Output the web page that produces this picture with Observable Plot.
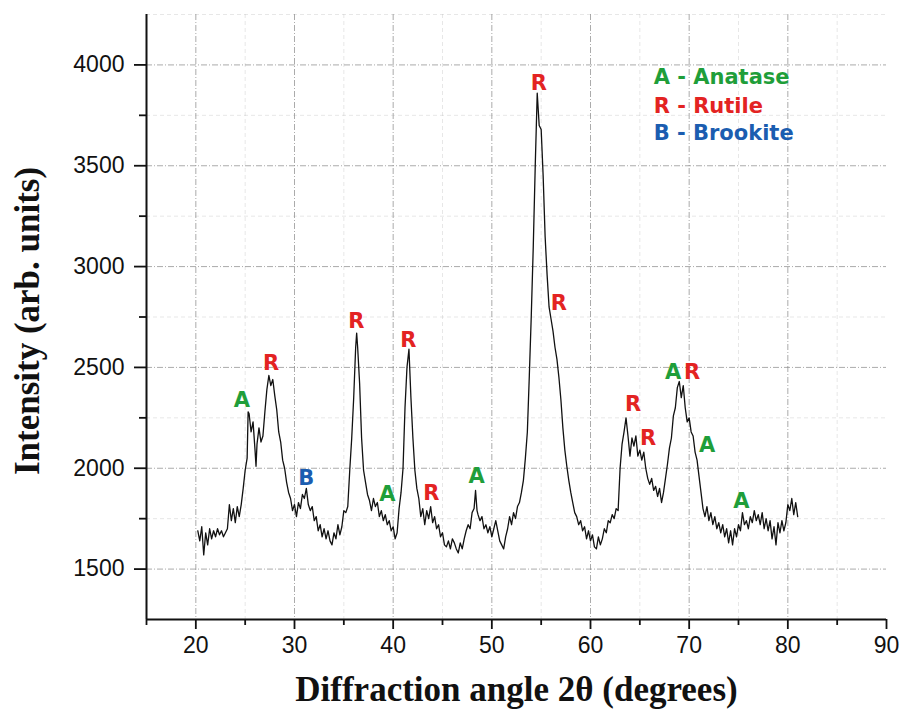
<!DOCTYPE html>
<html>
<head>
<meta charset="utf-8">
<script src="https://cdn.jsdelivr.net/npm/d3@7"></script>
<script src="https://cdn.jsdelivr.net/npm/@observablehq/plot@0.6"></script>
<style>
  html, body { margin: 0; padding: 0; background: #fff; }
  #chart { width: 906px; height: 725px; }
</style>
</head>
<body>
<div id="chart"></div>
<script>
// Diffraction angle (degrees)
const angle = [
  20.2,20.4,20.6,20.8,21.0,21.2,21.4,21.6,21.8,22.0,22.2,22.4,22.6,22.8,23.0,23.2,23.4,23.6,23.8,24.0,
  24.2,24.4,24.6,24.8,25.0,25.2,25.3,25.4,25.6,25.8,26.0,26.1,26.2,26.4,26.6,26.8,27.0,27.2,27.4,27.6,
  27.8,28.0,28.2,28.4,28.6,28.8,29.0,29.2,29.4,29.6,29.8,30.0,30.2,30.4,30.6,30.8,31.0,31.2,31.4,31.6,
  31.8,32.0,32.2,32.4,32.6,32.8,33.0,33.2,33.4,33.6,33.8,34.0,34.2,34.4,34.6,34.8,35.0,35.2,35.4,35.6,
  35.8,36.0,36.2,36.3,36.4,36.6,36.8,37.0,37.2,37.4,37.6,37.8,38.0,38.2,38.4,38.6,38.8,39.0,39.2,39.4,
  39.6,39.8,40.0,40.2,40.4,40.6,40.8,41.0,41.2,41.4,41.6,41.8,42.0,42.2,42.4,42.6,42.8,43.0,43.2,43.4,
  43.6,43.8,44.0,44.2,44.4,44.6,44.8,45.0,45.2,45.4,45.6,45.8,46.0,46.2,46.4,46.6,46.8,47.0,47.2,47.4,
  47.6,47.8,48.0,48.2,48.35,48.5,48.6,48.8,49.0,49.2,49.4,49.6,49.8,50.0,50.2,50.4,50.6,50.8,51.0,51.2,
  51.4,51.6,51.8,52.0,52.2,52.4,52.6,52.8,53.0,53.2,53.4,53.6,53.8,54.0,54.2,54.4,54.6,54.8,55.0,55.2,
  55.4,55.6,55.8,56.0,56.2,56.4,56.6,56.8,57.0,57.2,57.4,57.6,57.8,58.0,58.2,58.4,58.6,58.8,59.0,59.2,
  59.4,59.6,59.8,60.0,60.2,60.4,60.6,60.8,61.0,61.2,61.4,61.6,61.8,62.0,62.2,62.4,62.6,62.8,63.0,63.2,
  63.4,63.6,63.8,64.0,64.2,64.4,64.6,64.8,65.0,65.2,65.4,65.6,65.8,66.0,66.2,66.4,66.6,66.8,67.0,67.2,
  67.4,67.6,67.8,68.0,68.2,68.4,68.6,68.8,69.0,69.2,69.4,69.6,69.8,70.0,70.2,70.4,70.6,70.8,71.0,71.2,
  71.4,71.6,71.8,72.0,72.2,72.4,72.6,72.8,73.0,73.2,73.4,73.6,73.8,74.0,74.2,74.4,74.6,74.8,75.0,75.2,
  75.4,75.6,75.8,76.0,76.2,76.4,76.6,76.8,77.0,77.2,77.4,77.6,77.8,78.0,78.2,78.4,78.6,78.8,79.0,79.2,
  79.4,79.6,79.8,80.0,80.2,80.4,80.6,80.8,81.0
];
// Intensity (arb. units)
const intensity = [
  1690,1640,1710,1570,1680,1620,1700,1650,1690,1660,1700,1670,1690,1660,1680,1700,1820,1740,1800,1730,
  1810,1760,1820,1900,1990,2050,2280,2270,2180,2230,2090,2010,2120,2200,2130,2160,2280,2390,2460,2410,
  2440,2360,2290,2180,2130,2040,2000,1930,1880,1850,1790,1820,1760,1830,1800,1870,1850,1900,1820,1790,
  1810,1740,1760,1690,1720,1660,1700,1650,1690,1640,1620,1680,1650,1720,1670,1710,1790,1780,1810,1990,
  2150,2350,2600,2670,2600,2420,2150,1990,1930,1870,1840,1790,1850,1810,1830,1760,1790,1740,1770,1720,
  1740,1690,1710,1650,1680,1800,1880,2000,2300,2500,2590,2350,2150,1990,1900,1850,1760,1800,1720,1790,
  1750,1810,1730,1760,1700,1720,1660,1680,1620,1610,1640,1600,1650,1630,1600,1580,1630,1600,1650,1690,
  1720,1700,1780,1800,1890,1790,1770,1740,1760,1700,1720,1680,1710,1660,1700,1740,1690,1640,1620,1600,
  1660,1700,1760,1720,1780,1750,1810,1830,1880,1940,2050,2180,2460,2760,3100,3500,3860,3700,3680,3450,
  3150,2960,2800,2740,2680,2600,2540,2450,2340,2200,2090,2010,1940,1880,1830,1780,1760,1720,1740,1690,
  1710,1650,1690,1640,1670,1610,1600,1660,1620,1650,1700,1680,1740,1730,1770,1750,1800,1790,2000,2120,
  2180,2250,2160,2060,2150,2110,2160,2060,2090,2040,2080,2000,1950,1920,1950,1890,1910,1860,1900,1830,
  1880,1950,2020,2100,2150,2260,2300,2400,2430,2350,2410,2300,2230,2250,2180,2160,2080,2040,1960,1880,
  1800,1760,1810,1740,1780,1720,1760,1700,1730,1680,1720,1660,1700,1630,1690,1620,1700,1660,1720,1690,
  1780,1720,1740,1700,1760,1730,1790,1740,1770,1720,1780,1700,1750,1690,1740,1650,1710,1620,1730,1680,
  1740,1690,1730,1820,1790,1850,1770,1830,1760
];

// Phase labels on peaks
const peakX = [24.67, 27.62, 31.18, 36.26, 39.41, 41.54, 43.88, 48.46, 54.76, 56.79, 64.31, 65.83, 68.37, 70.3, 71.83, 75.28];
const peakY = [2335, 2523, 1950, 2730, 1871, 2636, 1876, 1960, 3911, 2819, 2315, 2148, 2474, 2474, 2113, 1836];
const peakText = ["A","R","B","R","A","R","R","A","R","R","R","R","A","R","A","A"];

// Legend
const legendText = ["A - Anatase", "R - Rutile", "B - Brookite"];
const legendY = [3941, 3797, 3659];
const legendX = 66.4;

const phaseColor = {A: "#1f9e3a", R: "#e32322", B: "#1b5db0"};

const xMajor = [20, 30, 40, 50, 60, 70, 80, 90];
const xMinor = [15, 25, 35, 45, 55, 65, 75, 85];
const yMajor = [1500, 2000, 2500, 3000, 3500, 4000];
const yMinor = [1750, 2250, 2750, 3250, 3750, 4250];

const points = angle.map((a, i) => ({angle: a, intensity: intensity[i]}));
const peaks = peakX.map((x, i) => ({x, y: peakY[i], t: peakText[i]}));
const legend = legendText.map((t, i) => ({t, y: legendY[i], c: phaseColor[t[0]]}));

const serif = "'Liberation Serif', 'DejaVu Serif', serif";
const sans = "'Liberation Sans', Arial, sans-serif";
const boldSans = "'DejaVu Sans', 'Liberation Sans', sans-serif";

const chart = Plot.plot({
  width: 906,
  height: 725,
  marginLeft: 146,
  marginRight: 20,
  marginTop: 14,
  marginBottom: 106,
  x: {domain: [15, 90]},
  y: {domain: [1250, 4250]},
  style: {fontFamily: sans, background: "#fff", color: "#111"},
  marks: [
    Plot.gridX(xMinor, {stroke: "#bbb", strokeOpacity: 0.35, strokeDasharray: "4,3"}),
    Plot.gridY(yMinor, {stroke: "#bbb", strokeOpacity: 0.35, strokeDasharray: "4,3"}),
    Plot.gridX(xMajor.slice(0, 7), {stroke: "#888", strokeOpacity: 0.7, strokeDasharray: "6,2,1,2"}),
    Plot.gridY(yMajor, {stroke: "#888", strokeOpacity: 0.7, strokeDasharray: "6,2,1,2"}),
    Plot.axisX(xMajor, {tickSize: 10, tickPadding: 7, fontSize: 23, strokeWidth: 1.8, label: null, tickFormat: d => String(d)}),
    Plot.axisX(xMinor, {tickSize: 6, strokeWidth: 1.8, label: null, tickFormat: () => ""}),
    Plot.axisY(yMajor, {tickSize: 12, tickPadding: 10, fontSize: 23, strokeWidth: 1.8, label: null, tickFormat: d => String(d)}),
    Plot.axisY(yMinor.slice(0, 5), {tickSize: 7, strokeWidth: 1.8, label: null, tickFormat: () => ""}),
    Plot.ruleX([15], {stroke: "#111", strokeWidth: 2}),
    Plot.ruleY([1250], {stroke: "#111", strokeWidth: 2}),
    Plot.line(points, {x: "angle", y: "intensity", stroke: "#111", strokeWidth: 1.3}),
    Plot.text(peaks, {x: "x", y: "y", text: "t", fill: d => phaseColor[d.t], fontSize: 21, fontWeight: "bold", fontFamily: boldSans}),
    Plot.text(legend, {x: legendX, y: "y", text: "t", fill: "c", fontSize: 21, fontWeight: "bold", fontFamily: boldSans, textAnchor: "start"}),
    Plot.text(["Diffraction angle 2θ (degrees)"], {frameAnchor: "bottom", dy: 81, fontSize: 35, fontWeight: "bold", fontFamily: serif, fill: "#111"}),
    Plot.text(["Intensity (arb. units)"], {frameAnchor: "left", textAnchor: "middle", dx: -119, dy: 4, rotate: -90, fontSize: 35, fontWeight: "bold", fontFamily: serif, fill: "#111"})
  ]
});
document.getElementById("chart").append(chart);
</script>
</body>
</html>
